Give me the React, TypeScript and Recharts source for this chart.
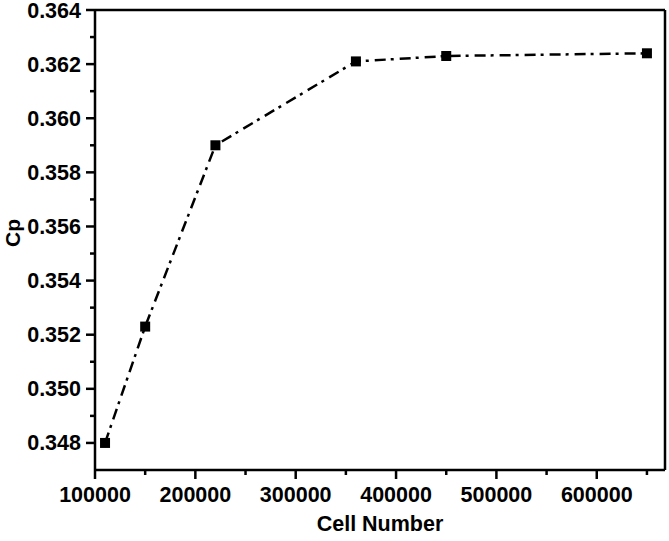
import React from "react";
import { LineChart, Line, XAxis, YAxis, ReferenceLine } from "recharts";

const cellNumbers = [110000, 150000, 220000, 360000, 450000, 650000];
const cpValues = [0.348, 0.3523, 0.359, 0.3621, 0.3623, 0.3624];

const xTicks = [100000, 150000, 200000, 250000, 300000, 350000, 400000, 450000, 500000, 550000, 600000, 650000];
const yTicks = [0.348, 0.349, 0.35, 0.351, 0.352, 0.353, 0.354, 0.355, 0.356, 0.357, 0.358, 0.359, 0.36, 0.361, 0.362, 0.363, 0.364];

const X_DOMAIN = [100000, 668000];
const Y_DOMAIN = [0.347, 0.364];

const data = cellNumbers.map((n, i) => ({ cells: n, cp: cpValues[i] }));

const FONT = "'Liberation Sans', Arial, sans-serif";

const XTick = (props: any) => {
  const { x, y, payload } = props;
  const major = Math.round(payload.value / 50000) % 2 === 0;
  return (
    <g>
      <line x1={x} x2={x} y1={y} y2={y + (major ? 9 : 5)} stroke="#000" strokeWidth={2.5} />
      {major && (
        <text x={x} y={y + 32} textAnchor="middle" fontSize={21.5} fontWeight="bold" fontFamily={FONT} fill="#000">
          {payload.value}
        </text>
      )}
    </g>
  );
};

const YTick = (props: any) => {
  const { x, y, payload } = props;
  const major = Math.round(payload.value * 1000) % 2 === 0;
  return (
    <g>
      <line x1={x - (major ? 9 : 5)} x2={x} y1={y} y2={y} stroke="#000" strokeWidth={2.5} />
      {major && (
        <text x={x - 14} y={y + 7.5} textAnchor="end" fontSize={21.5} fontWeight="bold" fontFamily={FONT} fill="#000">
          {payload.value.toFixed(3)}
        </text>
      )}
    </g>
  );
};

const SquareDot = (props: any) => {
  const { cx, cy } = props;
  if (cx == null || cy == null) return null;
  return <rect x={cx - 5} y={cy - 5} width={10} height={10} fill="#000" />;
};

const CpLabel = (props: any) => {
  const vb = props.viewBox || { y: 10, height: 460 };
  const cy = vb.y + vb.height / 2 - 7;
  return (
    <text
      x={20}
      y={cy}
      transform={`rotate(-90, 20, ${cy})`}
      textAnchor="middle"
      fontSize={21}
      fontWeight="bold"
      fontFamily={FONT}
      fill="#000"
    >
      Cp
    </text>
  );
};

const CellLabel = (props: any) => {
  const vb = props.viewBox || { x: 95, width: 570, y: 470 };
  return (
    <text
      x={vb.x + vb.width / 2}
      y={531}
      textAnchor="middle"
      fontSize={21.5}
      fontWeight="bold"
      fontFamily={FONT}
      fill="#000"
    >
      Cell Number
    </text>
  );
};

export default function App() {
  return (
    <div style={{ position: "absolute", left: 0, top: 0, width: 669, height: 541, background: "#fff" }}>
      <LineChart width={669} height={541} data={data} margin={{ top: 10, right: 4, bottom: 0, left: 0 }}>
        <XAxis
          dataKey="cells"
          type="number"
          domain={X_DOMAIN}
          allowDataOverflow
          ticks={xTicks}
          interval={0}
          height={71}
          tickSize={0}
          tickMargin={0}
          tickLine={false}
          tick={<XTick />}
          axisLine={{ stroke: "#000", strokeWidth: 2.5 }}
          label={<CellLabel />}
        />
        <YAxis
          dataKey="cp"
          type="number"
          domain={Y_DOMAIN}
          allowDataOverflow
          ticks={yTicks}
          interval={0}
          width={95}
          tickSize={0}
          tickMargin={0}
          tickLine={false}
          tick={<YTick />}
          axisLine={{ stroke: "#000", strokeWidth: 2.5 }}
          label={<CpLabel />}
        />
        <ReferenceLine y={Y_DOMAIN[1]} stroke="#000" strokeWidth={2.5} />
        <ReferenceLine x={X_DOMAIN[1]} stroke="#000" strokeWidth={2.5} />
        <Line
          type="linear"
          dataKey="cp"
          stroke="#000"
          strokeWidth={2.5}
          strokeDasharray="11 5 3 6"
          dot={<SquareDot />}
          activeDot={false}
          isAnimationActive={false}
        />
      </LineChart>
    </div>
  );
}
